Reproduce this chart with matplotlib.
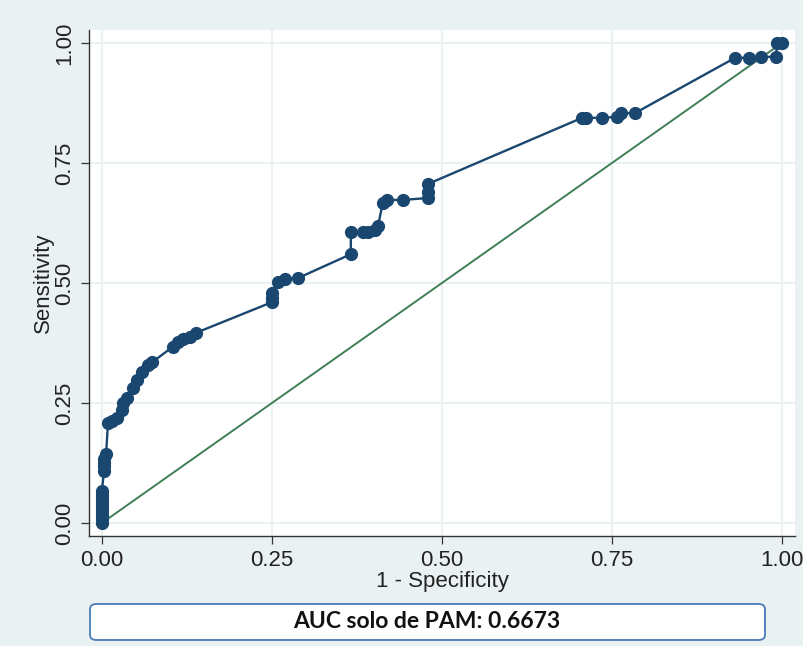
import matplotlib
matplotlib.use("Agg")
import matplotlib.pyplot as plt
from matplotlib.patches import FancyBboxPatch

# ROC points (1 - specificity, sensitivity)
fpr = [0, 0, 0, 0, 0, 0, 0, 0, 0,
       0.003, 0.003, 0.003, 0.003, 0.006,
       0.009, 0.015, 0.022, 0.029, 0.031, 0.037,
       0.046, 0.051, 0.059, 0.068, 0.074,
       0.104, 0.112, 0.119, 0.129, 0.138,
       0.25, 0.25, 0.25, 0.259, 0.269, 0.288,
       0.366, 0.366, 0.384, 0.391, 0.401, 0.406, 0.413, 0.419, 0.443,
       0.479, 0.479, 0.479,
       0.706, 0.712, 0.735, 0.757, 0.763, 0.784,
       0.931, 0.951, 0.969, 0.991, 0.993, 1.0]
tpr = [0, 0.008, 0.017, 0.025, 0.034, 0.042, 0.050, 0.059, 0.067,
       0.109, 0.118, 0.126, 0.134, 0.143,
       0.208, 0.212, 0.219, 0.235, 0.25, 0.26,
       0.281, 0.298, 0.315, 0.329, 0.335,
       0.367, 0.377, 0.383, 0.388, 0.396,
       0.46, 0.469, 0.479, 0.502, 0.508, 0.51,
       0.56, 0.606, 0.606, 0.606, 0.61, 0.619, 0.667, 0.673, 0.673,
       0.677, 0.69, 0.706,
       0.844, 0.844, 0.844, 0.846, 0.854, 0.854,
       0.969, 0.969, 0.971, 0.971, 1.0, 1.0]

ref_line = [0, 1]
ticks = [0, 0.25, 0.5, 0.75, 1.0]
tick_labels = ["0.00", "0.25", "0.50", "0.75", "1.00"]
auc_text = "AUC solo de PAM: 0.6673"

plt.rcParams["font.family"] = ["Liberation Sans", "DejaVu Sans"]

bg = "#eaf1f3"
navy = "#1a476f"

fig = plt.figure(figsize=(8.04, 6.46), dpi=100, facecolor=bg)
ax = fig.add_axes([0.1107, 0.1703, 0.878, 0.7833])
ax.set_facecolor("white")

ax.plot(ref_line, ref_line, color="#3f7f56", lw=1.4, zorder=2)
ax.plot(fpr, tpr, color=navy, lw=1.7, marker="o", ms=8.5,
        markeredgecolor=navy, markerfacecolor=navy, zorder=3)

ax.set_xlim(-0.019, 1.019)
ax.set_ylim(-0.027, 1.027)
ax.set_xticks(ticks)
ax.set_xticklabels(tick_labels)
ax.set_yticks(ticks)
ax.set_yticklabels(tick_labels, rotation=90, va="center")
ax.grid(True, color=bg, lw=1.5)
ax.set_axisbelow(True)

for side in ("top", "right"):
    ax.spines[side].set_visible(False)
for side in ("left", "bottom"):
    ax.spines[side].set_color("#333333")
    ax.spines[side].set_linewidth(1.0)

ax.tick_params(axis="both", length=6, width=0.9, color="#333333",
               labelsize=16, labelcolor="#222222", pad=4)

ax.set_xlabel("1 - Specificity", fontsize=16, color="#222222", labelpad=0)
ax.set_ylabel("Sensitivity", fontsize=16, color="#222222", labelpad=0)

# AUC note in a rounded box below the plot
box = FancyBboxPatch((90 / 804, 1 - 640 / 646), 675 / 804, 36 / 646,
                     boxstyle="round,pad=0,rounding_size=0.008",
                     transform=fig.transFigure, facecolor="white",
                     edgecolor="#4a7ab5", lw=1.3)
fig.patches.append(box)
fig.text(427 / 804, 1 - 622 / 646, auc_text, ha="center", va="center",
         fontsize=16.5, fontweight="bold", color="#111111",
         family=["Lato", "DejaVu Sans"])

fig.savefig("out.png", dpi=100, facecolor=bg)
